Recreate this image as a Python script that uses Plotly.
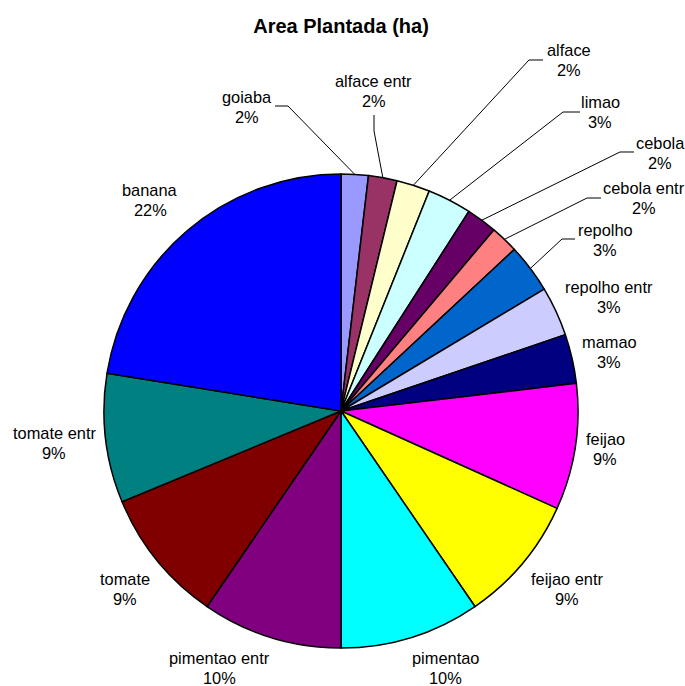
import math
import plotly.graph_objects as go

# ---- data (share of planted area) ----
categories = ["goiaba", "alface entr", "alface", "limao", "cebola", "cebola entr",
              "repolho", "repolho entr", "mamao", "feijao", "feijao entr",
              "pimentao", "pimentao entr", "tomate", "tomate entr", "banana"]
values = [1.85, 1.95, 2.27, 3.0, 2.09, 1.9, 3.34, 3.38, 3.36, 8.6, 8.7,
          9.56, 9.56, 9.19, 8.8, 22.45]
colors = ["#9999FF", "#993366", "#FFFFCC", "#CCFFFF", "#660066", "#FF8080",
          "#0066CC", "#CCCCFF", "#000080", "#FF00FF", "#FFFF00",
          "#00FFFF", "#800080", "#800000", "#008080", "#0000FF"]

# ---- layout constants (pixels) ----
W, H = 685, 686
CX, CY, R = 341, 411, 237
LINE_GAP = 20
label_pos = {
    "goiaba": (247, 107), "alface entr": (374, 91), "alface": (569, 60),
    "limao": (600, 112), "cebola": (660, 153), "cebola entr": (644, 198),
    "repolho": (605, 240), "repolho entr": (609, 297), "mamao": (609, 352),
    "feijao": (605, 449), "feijao entr": (567, 589), "pimentao": (445, 668),
    "pimentao entr": (219, 668), "tomate": (125, 589), "tomate entr": (54, 443),
    "banana": (150, 200),
}
leaders = {
    "goiaba": [(275, 106), (288, 106)],
    "alface entr": [(374, 115), (374, 131)],
    "alface": [(543, 60), (529, 60)],
    "limao": [(580, 112), (563, 112)],
    "cebola": [(634, 152), (620, 152)],
    "cebola entr": [(601, 198), (587, 198)],
    "repolho": [(575, 239), (562, 239)],
}
FONT = "Arial, Liberation Sans, sans-serif"

def px(x):
    return x / W

def py(y):
    return 1 - y / H

total = sum(values)
fig = go.Figure(go.Pie(
    labels=categories, values=values, sort=False, direction="clockwise",
    rotation=0, marker=dict(colors=colors, line=dict(color="black", width=1.5)),
    textinfo="none", hoverinfo="label+percent", showlegend=False,
    domain=dict(x=[px(CX - R), px(CX + R)], y=[py(CY + R), py(CY - R)]),
))

annotations = []
shapes = []
cum = 0.0
for name, v in zip(categories, values):
    mid = (cum + v / 2) / total * 2 * math.pi
    cum += v
    lx, ly = label_pos[name]
    pct = round(v / total * 100)
    for txt, yy in ((name, ly - LINE_GAP / 2), (f"{pct}%", ly + LINE_GAP / 2)):
        annotations.append(dict(
            x=px(lx), y=py(yy), xref="paper", yref="paper", showarrow=False,
            text=txt, xanchor="center", yanchor="middle",
            font=dict(family=FONT, size=16.4, color="black"),
        ))
    if name in leaders:
        ex = CX + R * math.sin(mid)
        ey = CY - R * math.cos(mid)
        pts = leaders[name] + [(ex, ey)]
        path = "M " + " L ".join(f"{px(a):.5f},{py(b):.5f}" for a, b in pts)
        shapes.append(dict(type="path", path=path, xref="paper", yref="paper",
                           line=dict(color="black", width=1)))

fig.update_layout(
    width=W, height=H, margin=dict(l=0, r=0, t=0, b=0),
    paper_bgcolor="white", plot_bgcolor="white",
    title=dict(text="<b>Area Plantada (ha)</b>", x=px(341), y=py(26),
               xanchor="center", yanchor="middle",
               font=dict(family=FONT, size=20, color="black")),
    annotations=annotations, shapes=shapes,
)

fig.write_html("out.html", config={"displayModeBar": False},
               post_script="document.body.style.margin='0';")
